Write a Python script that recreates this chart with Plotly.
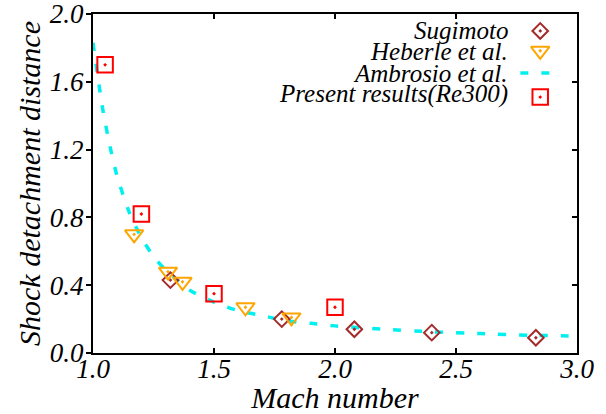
import plotly.graph_objects as go

# ---- data ----
sug_M = [1.32, 1.78, 2.08, 2.40, 2.83]
sug_d = [0.43, 0.20, 0.14, 0.12, 0.09]

heb_M = [1.17, 1.31, 1.37, 1.63, 1.82]
heb_d = [0.70, 0.48, 0.42, 0.27, 0.21]

amb_M = [1.00, 1.04, 1.07, 1.10, 1.15, 1.20, 1.25, 1.30, 1.40, 1.50,
         1.60, 1.70, 1.80, 1.90, 2.00, 2.20, 2.40, 2.60, 2.80, 3.00]
amb_d = [1.83, 1.44, 1.22, 1.04, 0.83, 0.68, 0.57, 0.49, 0.37, 0.30,
         0.25, 0.22, 0.19, 0.175, 0.16, 0.14, 0.125, 0.115, 0.105, 0.10]

pres_M = [1.05, 1.20, 1.50, 2.00]
pres_d = [1.70, 0.82, 0.35, 0.27]

x_ticks = [1.0, 1.5, 2.0, 2.5, 3.0]
y_ticks = [0.0, 0.4, 0.8, 1.2, 1.6, 2.0]

labels = ["Sugimoto", "Heberle et al.", "Ambrosio et al.", "Present results(Re300)"]

# ---- styles ----
FONT = "Liberation Serif"
BROWN = "#a52a2a"
ORANGE = "#ffa500"
CYAN = "#00f0f0"
RED = "#ff0000"

fig = go.Figure()

fig.add_trace(go.Scatter(x=amb_M, y=amb_d, mode="lines", line=dict(color=CYAN, width=3.5, dash="8px,13px", shape="spline", smoothing=0.6),
                         showlegend=False))
fig.add_trace(go.Scatter(x=sug_M, y=sug_d, mode="markers",
                         marker=dict(symbol="diamond-open-dot", size=12, color=BROWN, line=dict(width=2, color=BROWN)),
                         showlegend=False))
fig.add_trace(go.Scatter(x=heb_M, y=heb_d, mode="markers",
                         marker=dict(symbol="triangle-down-open-dot", size=16, color=ORANGE, line=dict(width=2, color=ORANGE)),
                         showlegend=False))
fig.add_trace(go.Scatter(x=pres_M, y=pres_d, mode="markers",
                         marker=dict(symbol="square-open-dot", size=15.5, color=RED, line=dict(width=2, color=RED)),
                         showlegend=False))

# ---- gnuplot-style legend (text left, key right), on overlay axes ----
key_x = 0.924
key_y = [1.90, 1.783, 1.652, 1.51]
text_x = 0.862
text_y = [0.950, 0.888, 0.825, 0.764]
dash_x = [0.883, 0.943]

fig.add_trace(go.Scatter(x=[key_x], y=[key_y[0]], xaxis="x2", yaxis="y2", mode="markers",
                         marker=dict(symbol="diamond-open-dot", size=12, color=BROWN, line=dict(width=2, color=BROWN)),
                         showlegend=False, cliponaxis=False))
fig.add_trace(go.Scatter(x=[key_x], y=[key_y[1]], xaxis="x2", yaxis="y2", mode="markers",
                         marker=dict(symbol="triangle-down-open-dot", size=16, color=ORANGE, line=dict(width=2, color=ORANGE)),
                         showlegend=False, cliponaxis=False))
fig.add_trace(go.Scatter(x=dash_x, y=[key_y[2], key_y[2]], xaxis="x2", yaxis="y2", mode="lines",
                         line=dict(color=CYAN, width=3.5, dash="8px,13px"),
                         showlegend=False, cliponaxis=False))
fig.add_trace(go.Scatter(x=[key_x], y=[key_y[3]], xaxis="x2", yaxis="y2", mode="markers",
                         marker=dict(symbol="square-open-dot", size=15.5, color=RED, line=dict(width=2, color=RED)),
                         showlegend=False, cliponaxis=False))

for lab, ty in zip(labels, text_y):
    fig.add_annotation(x=text_x, y=ty, xref="paper", yref="paper", text=lab, showarrow=False,
                       xanchor="right", yanchor="middle",
                       font=dict(family=FONT, size=25, color="black", style="italic"))

axis_font = dict(family=FONT, size=27, color="black", style="italic")
title_font = dict(family=FONT, size=30, color="black", style="italic")

fig.update_layout(
    width=606, height=414,
    margin=dict(l=93, r=29, t=14, b=61),
    paper_bgcolor="white", plot_bgcolor="white",
    showlegend=False,
    xaxis=dict(range=[1.0, 3.0], tickvals=x_ticks, ticktext=[f"{v:.1f}" for v in x_ticks],
               ticks="inside", ticklen=5, tickwidth=1.5, tickcolor="black",
               showline=True, linecolor="black", linewidth=2, mirror="ticks",
               showgrid=False, zeroline=False, tickfont=axis_font, automargin=False,
               ticklabelstandoff=-9, ticklabeloverflow="allow",
               title=dict(text="Mach number", font=title_font, standoff=6)),
    yaxis=dict(range=[0.0, 2.0], tickvals=y_ticks, ticktext=[f"{v:.1f}" for v in y_ticks],
               ticks="outside", ticklen=5, tickwidth=1.5, tickcolor="black",
               showline=True, linecolor="black", linewidth=2, mirror=False,
               showgrid=False, zeroline=False, tickfont=axis_font, automargin=False,
               ticklabelstandoff=-3, ticklabeloverflow="allow",
               title=dict(text="Shock detachment distance", font=title_font, standoff=0)),
    xaxis2=dict(range=[0, 1], overlaying="x", visible=False, fixedrange=True),
    yaxis2=dict(range=[0.0, 2.0], overlaying="y", side="right", tickvals=y_ticks,
                ticks="inside", ticklen=5, tickwidth=1.5, tickcolor="black",
                showticklabels=False, showline=True, linecolor="black", linewidth=2,
                showgrid=False, zeroline=False, automargin=False),
)

fig.write_html("out.html")
